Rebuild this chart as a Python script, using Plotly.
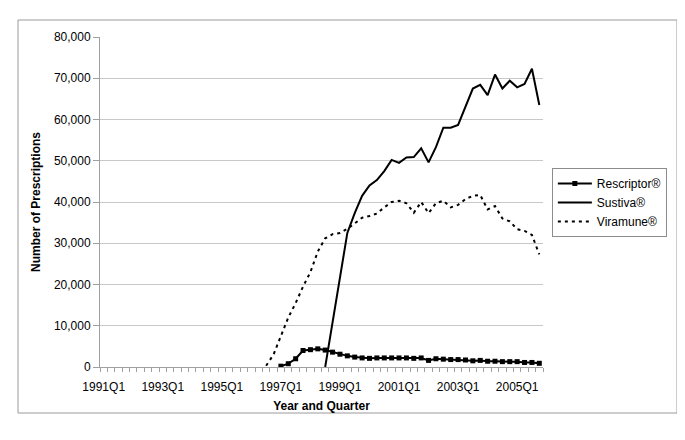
import plotly.graph_objects as go

quarters = [f"{y}Q{q}" for y in range(1991, 2006) for q in range(1, 5)]

rescriptor = [None] * 24 + [
    200, 800, 2000, 4000, 4200, 4400, 4100, 3600, 3100, 2700,
    2400, 2200, 2100, 2200, 2200, 2200, 2200, 2200, 2100, 2200,
    1600, 2000, 1900, 1800, 1800, 1700, 1500, 1600, 1400, 1400,
    1300, 1300, 1300, 1100, 1100, 900]

sustiva = [None] * 30 + [
    0, 11000, 21500, 32500, 37300, 41500, 44000, 45300, 47500, 50200,
    49500, 50800, 50900, 53000, 49600, 53300, 58000, 58000, 58700, 63100,
    67500, 68400, 65900, 70900, 67500, 69400, 67800, 68600, 72300, 63500]

viramune = [None] * 22 + [
    300, 3000, 7500, 12000, 15500, 19500, 23000, 28000, 31200, 32200,
    32500, 33500, 34800, 36200, 36600, 37200, 38700, 40000, 40300, 39700,
    37400, 40000, 37300, 39700, 40300, 38700, 39300, 40700, 41500, 41700,
    38200, 39000, 36000, 35300, 33400, 33000, 32000, 27300]

tick_text = [q if (q.endswith("Q1") and int(q[:4]) % 2 == 1) else "" for q in quarters]

FONT = "Liberation Sans, Arial, sans-serif"

fig = go.Figure()
fig.add_trace(go.Scatter(x=quarters, y=rescriptor, name="Rescriptor®", mode="lines+markers",
                         line=dict(color="black", width=2),
                         marker=dict(symbol="square", size=5, color="black")))
fig.add_trace(go.Scatter(x=quarters, y=sustiva, name="Sustiva®", mode="lines",
                         line=dict(color="black", width=2)))
fig.add_trace(go.Scatter(x=quarters, y=viramune, name="Viramune®", mode="lines",
                         line=dict(color="black", width=2, dash="3px,4px")))

# page body has an 8px margin, so the figure is offset by 8px
fig.update_layout(
    width=669, height=424,
    margin=dict(l=92, r=134, t=29, b=65, autoexpand=False),
    paper_bgcolor="white", plot_bgcolor="white",
    font=dict(family=FONT, size=12, color="black"),
    showlegend=True,
    legend=dict(x=1.02, y=0.603, xanchor="left", yanchor="top",
                bordercolor="#8c8c8c", borderwidth=1, font=dict(size=12),
                tracegroupgap=0, itemwidth=34),
    xaxis=dict(type="category", categoryorder="array", categoryarray=quarters,
               tickvals=quarters, ticktext=tick_text, tickangle=0,
               tickson="boundaries", ticks="outside", ticklen=4, tickcolor="#a0a0a0",
               ticklabelstandoff=9,
               showgrid=False, showline=True, linecolor="#a0a0a0", linewidth=1,
               range=[-0.5, 59.5],
               title=dict(text="<b>Year and Quarter</b>", font=dict(size=12), standoff=8)),
    yaxis=dict(range=[0, 80000], dtick=10000, tickformat=",",
               ticks="outside", ticklen=6, tickcolor="#a0a0a0",
               showgrid=True, gridcolor="#c8c8c8", gridwidth=1,
               showline=True, linecolor="#a0a0a0", linewidth=1, zeroline=False,
               title=dict(text="<b>Number of Prescriptions</b>", font=dict(size=12), standoff=10)),
    shapes=[dict(type="rect", xref="paper", yref="paper",
                 x0=(18 - 100) / 443, x1=(677 - 100) / 443,
                 y0=(367 - 413) / 330, y1=(367 - 20) / 330,
                 line=dict(color="#9a9a9a", width=1), fillcolor="rgba(0,0,0,0)", layer="below")],
)

fig.write_html("out.html")
